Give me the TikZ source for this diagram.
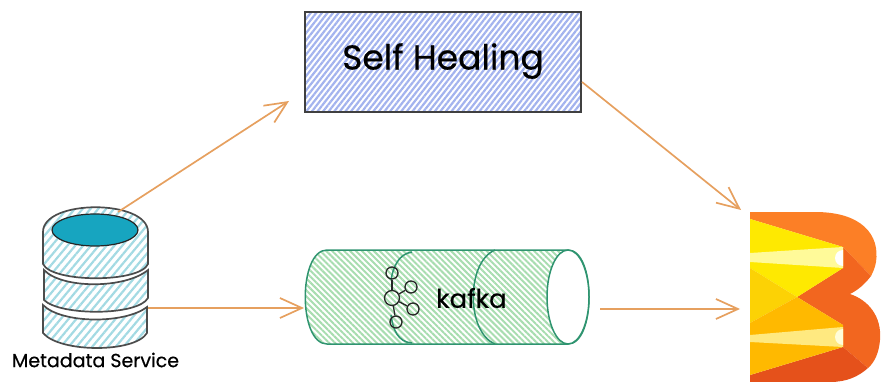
\documentclass[tikz,border=0pt]{standalone}
\usepackage{fontspec}
\setmainfont{Poppins}
\newfontfamily\sketchfont[FakeBold=0.5]{Poppins}
\usetikzlibrary{positioning,arrows.meta,patterns.meta}
\definecolor{linkorange}{HTML}{E6A05F}
\definecolor{boxblue}{HTML}{A3B3EE}
\definecolor{pipegreen}{HTML}{2F9470}
\definecolor{hatchgreen}{HTML}{A8DDB0}
\definecolor{hatchcyan}{HTML}{A3DAE3}
\definecolor{dbcyan}{HTML}{17A5C0}
\definecolor{beamtop}{HTML}{FC7F26}
\definecolor{beammid}{HTML}{F2661F}
\definecolor{beamlow}{HTML}{E5511B}
\tikzset{ghost/.style={draw=none, inner sep=0pt, outer sep=0pt}}

\begin{document}
\begin{tikzpicture}[
      x=1pt, y=-1pt,
      every node/.style={align=center, inner sep=0pt},
      heal/.style={draw=black!75, line width=1.6pt, minimum width=276pt, minimum height=100pt,
                   pattern={Lines[angle=52,distance=4.4pt,line width=2.2pt]}, pattern color=boxblue},
      dbpart/.style={draw=black!70, line width=1.7pt,
                   pattern={Lines[angle=50,distance=6pt,line width=2.2pt]}, pattern color=hatchcyan},
      pipe/.style={draw=pipegreen, line width=1.5pt},
      pipefill/.style={pipe, pattern={Lines[angle=-45,distance=4.2pt,line width=2pt]}, pattern color=hatchgreen},
      ball/.style={circle, draw=black!85, line width=1.3pt, minimum size=12pt},
      arrow/.style={-{Straight Barb[length=22pt,width=20pt]}, line width=1.7pt, draw=linkorange},
  ]
    \useasboundingbox (0,0) rectangle (882,382);

    %% --- Self healing box ---
    \node[heal] (healbox) at (443,62) {};
    \node[font=\fontsize{34.5}{38}\sketchfont] (heallabel) at (443,61) {Self Healing};

    %% --- Metadata store ---
    \path[dbpart] (43,305) .. controls (62,324) and (125,324) .. (147,307)
        -- (147,333) .. controls (135,353) and (60,353) .. (43,333) -- cycle;
    \path[dbpart] (44,270) .. controls (62,289) and (125,289) .. (148,270)
        -- (148,298) .. controls (138,316) and (60,316) .. (44,300) -- cycle;
    \path[dbpart] (43,232) .. controls (43,199) and (148,199) .. (148,232)
        -- (148,264) .. controls (140,283) and (52,283) .. (43,264) -- cycle;
    \draw[black!85, line width=1.2pt, fill=dbcyan] (95,230) ellipse (43pt and 16pt);
    \node[ghost, minimum width=106pt, minimum height=140pt] (metadb) at (95,280) {};
    \node[font=\fontsize{19}{21}\sketchfont] (metalabel) at (95.5,360) {Metadata Service};

    %% --- Kafka pipe ---
    \path[pipefill] (327,250) -- (568,250) .. controls (596,250) and (596,344) .. (568,344)
        -- (327,344) .. controls (298,344) and (298,250) .. (327,250) -- cycle;
    \draw[pipe] (495,250) .. controls (466,262) and (466,332) .. (495,344);
    \draw[pipe] (412,252) .. controls (398,254) and (393,268) .. (391,280);
    \draw[pipe] (391,315) .. controls (393,330) and (398,342) .. (412,343);
    \draw[pipe, fill=white] (568,297) ellipse (21pt and 47pt);
    \node[ghost, minimum width=285pt, minimum height=94pt] (kafkapipe) at (447,297) {};
    \node[ball, minimum size=15pt] (hub) at (392,298) {};
    \node[ball] (ball1) at (392,273) {};
    \node[ball] (ball2) at (411,287) {};
    \node[ball] (ball3) at (413,309) {};
    \node[ball] (ball4) at (396,322) {};
    \foreach \b in {ball1,ball2,ball3,ball4} \draw[black!85, line width=1.3pt] (hub) -- (\b);
    \node[font=\fontsize{26}{29}\sketchfont, anchor=west] (kafkalabel) at (436,298) {kafka};

    %% --- Beam logo ---
    \fill[beamtop] (750,212) -- (815,212) .. controls (862,212) and (880,235) .. (876,262)
        .. controls (875,268) and (873,272) .. (871,276) -- (843,247) -- (750,219) -- cycle;
    \fill[beammid] (843,247) -- (871,276) .. controls (865,284) and (858,290) .. (850,294)
        .. controls (868,300) and (882,316) .. (880,340) .. controls (879,352) and (875,362) .. (868,368)
        -- (843,347) -- (843,325) -- (797,297) -- (843,268) -- cycle;
    \fill[beamlow] (750,375) -- (843,347) -- (868,368) .. controls (858,377) and (846,382) .. (830,382) -- (750,382) -- cycle;
    \fill[yellow!92!orange] (750,219) -- (843,247) -- (843,268) -- (797,297) -- (750,268) -- cycle;
    \fill[yellow!70!orange] (750,268) -- (797,297) -- (750,323) -- cycle;
    \fill[orange!55!yellow] (750,323) -- (797,297) -- (843,325) -- (843,347) -- (750,375) -- cycle;
    \fill[yellow!40!white] (750,253) -- (843,247) -- (843,268) -- (750,262) -- cycle;
    \fill[orange!35!yellow!50!white] (750,335) -- (843,327) -- (843,347) -- (750,342) -- cycle;
    \fill[white] (843,250) arc[start angle=90, end angle=270, radius=8pt] -- cycle;
    \fill[yellow!15!white] (843,329) arc[start angle=90, end angle=270, radius=8pt] -- cycle;
    \node[ghost, minimum width=130pt, minimum height=170pt] (beam) at (815,297) {};

    %% --- Connectors ---
    \coordinate (dbtop) at (118,212);
    \coordinate (dbside) at (148,308);
    \coordinate (healin) at (289,101);
    \coordinate (healout) at (582,82);
    \coordinate (beamin) at (741,210);
    \coordinate (pipein) at (304,308);
    \coordinate (pipeout) at (600,309);
    \coordinate (beamside) at (740,309);
    \draw[arrow] (dbtop) -- (healin);
    \draw[arrow] (dbside) -- (pipein);
    \draw[arrow] (healout) -- (beamin);
    \draw[arrow] (pipeout) -- (beamside);
  \end{tikzpicture}
\end{document}
